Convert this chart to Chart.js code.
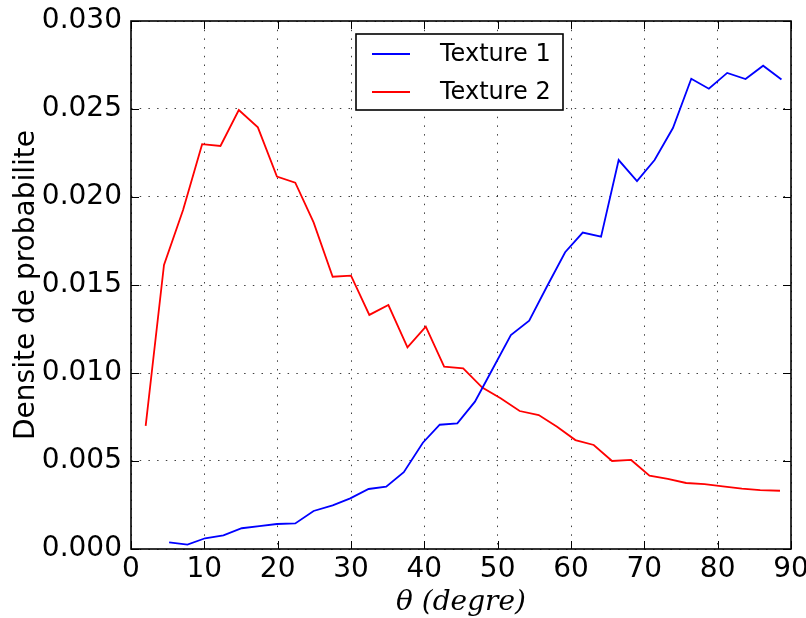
<!DOCTYPE html>
<html>
<head>
<meta charset="utf-8">
<script src="https://cdn.jsdelivr.net/npm/chart.js@4.4.1/dist/chart.umd.min.js"></script>
<style>
html,body{margin:0;padding:0;background:#fff;}
#c{display:block;}
</style>
</head>
<body>
<canvas id="c" width="806" height="618"></canvas>
<script>
// ---- data ----
const seriesNames = ["Texture 1", "Texture 2"];
const anglesT1 = [5.2, 7.7, 10.1, 12.6, 15.1, 17.5, 19.9, 22.4, 24.9, 27.5, 29.9, 32.4, 34.8, 37.2, 39.8, 42.1, 44.5, 46.9, 49.4, 51.8, 54.3, 56.7, 59.2, 61.6, 64.1, 66.5, 69.0, 71.4, 73.9, 76.4, 78.8, 81.3, 83.8, 86.2, 88.7];
const densT1 = [0.00038, 0.00025, 0.00061, 0.00077, 0.00118, 0.00130, 0.00142, 0.00145, 0.00216, 0.00248, 0.00288, 0.00341, 0.00354, 0.00436, 0.00604, 0.00706, 0.00714, 0.00837, 0.01030, 0.01216, 0.01297, 0.01490, 0.01686, 0.01798, 0.01775, 0.02210, 0.02090, 0.02210, 0.02392, 0.02672, 0.02615, 0.02705, 0.02670, 0.02746, 0.02668];
const anglesT2 = [2.0, 4.5, 7.1, 9.7, 12.2, 14.7, 17.3, 19.9, 22.4, 24.9, 27.5, 30.0, 32.5, 35.1, 37.7, 40.2, 42.7, 45.3, 47.9, 50.4, 53.0, 55.6, 58.1, 60.6, 63.1, 65.6, 68.2, 70.7, 73.2, 75.7, 78.2, 80.7, 83.3, 85.8, 88.5];
const densT2 = [0.00699, 0.01614, 0.01926, 0.02300, 0.02290, 0.02494, 0.02396, 0.02116, 0.02081, 0.01856, 0.01547, 0.01553, 0.01330, 0.01386, 0.01146, 0.01263, 0.01036, 0.01027, 0.00917, 0.00856, 0.00784, 0.00761, 0.00695, 0.00619, 0.00591, 0.00500, 0.00506, 0.00417, 0.00398, 0.00375, 0.00369, 0.00356, 0.00343, 0.00334, 0.00331];
const xTicks = [0, 10, 20, 30, 40, 50, 60, 70, 80, 90];
const yTicks = [0.000, 0.005, 0.010, 0.015, 0.020, 0.025, 0.030];
const xTitle = "θ (degre)";
const yTitle = "Densite de probabilite";

const toPts = (xs, ys) => xs.map((x, i) => ({x: x, y: ys[i]}));

const TICK_FONT = {family: "'DejaVu Sans'", size: 28};

const bgPlugin = {
  id: 'bg',
  beforeDraw(chart) {
    const ctx = chart.ctx;
    ctx.save();
    ctx.fillStyle = '#fff';
    ctx.fillRect(0, 0, chart.width, chart.height);
    ctx.restore();
  }
};

const framePlugin = {
  id: 'frame',
  afterDatasetsDraw(chart) {
    const {ctx, chartArea: a, scales} = chart;
    ctx.save();
    ctx.strokeStyle = '#000';
    ctx.lineWidth = 1;
    const tl = 8;
    ctx.beginPath();
    scales.x.ticks.forEach(t => {
      const px = Math.round(scales.x.getPixelForValue(t.value)) + 0.5;
      ctx.moveTo(px, a.bottom); ctx.lineTo(px, a.bottom - tl);
      ctx.moveTo(px, a.top); ctx.lineTo(px, a.top + tl);
    });
    scales.y.ticks.forEach(t => {
      const py = Math.round(scales.y.getPixelForValue(t.value)) + 0.5;
      ctx.moveTo(a.left, py); ctx.lineTo(a.left + tl, py);
      ctx.moveTo(a.right, py); ctx.lineTo(a.right - tl, py);
    });
    ctx.stroke();
    ctx.lineWidth = 1.6;
    ctx.strokeRect(a.left, a.top, a.right - a.left, a.bottom - a.top);
    ctx.restore();
  }
};

const legendPlugin = {
  id: 'boxLegend',
  afterDraw(chart) {
    const ctx = chart.ctx;
    const bx = 356, by = 34, bw = 207, bh = 76;
    ctx.save();
    ctx.fillStyle = '#fff';
    ctx.fillRect(bx, by, bw, bh);
    ctx.strokeStyle = '#000';
    ctx.lineWidth = 1.6;
    ctx.strokeRect(bx, by, bw, bh);
    ctx.font = "24px 'DejaVu Sans'";
    ctx.textBaseline = 'middle';
    ctx.fillStyle = '#000';
    chart.data.datasets.forEach((ds, i) => {
      const yy = by + 20 + i * 38;
      ctx.strokeStyle = ds.borderColor;
      ctx.lineWidth = 2;
      ctx.beginPath();
      ctx.moveTo(bx + 16, yy); ctx.lineTo(bx + 54, yy);
      ctx.stroke();
      ctx.fillText(ds.label, bx + 84, yy + 1);
    });
    ctx.restore();
  }
};

new Chart(document.getElementById('c'), {
  type: 'line',
  data: {
    datasets: [
      {label: seriesNames[0], data: toPts(anglesT1, densT1), borderColor: '#0000ff', borderWidth: 1.8, pointRadius: 0, fill: false, tension: 0},
      {label: seriesNames[1], data: toPts(anglesT2, densT2), borderColor: '#ff0000', borderWidth: 1.8, pointRadius: 0, fill: false, tension: 0}
    ]
  },
  options: {
    responsive: false,
    animation: false,
    events: [],
    layout: {padding: {left: 0, right: 15, top: 21, bottom: 0}},
    plugins: {legend: {display: false}, tooltip: {enabled: false}},
    scales: {
      x: {
        type: 'linear', min: 0, max: 90,
        afterBuildTicks: s => { s.ticks = xTicks.map(v => ({value: v})); },
        afterFit: s => { s.height = 69; s.paddingLeft = 0; s.paddingRight = 0; },
        ticks: {color: '#000', font: TICK_FONT, padding: 4, maxRotation: 0, autoSkip: false, callback: v => String(v)},
        grid: {color: 'rgba(0,0,0,0.75)', lineWidth: 1, drawTicks: false},
        border: {display: false, dash: [1.5, 7.2]},
        title: {display: true, text: xTitle, color: '#000', font: {family: "'DejaVu Serif'", size: 28, style: 'italic'}, padding: {top: 0, bottom: -2}}
      },
      y: {
        type: 'linear', min: 0, max: 0.030,
        afterBuildTicks: s => { s.ticks = yTicks.map(v => ({value: v})); },
        afterFit: s => { s.width = 131; s.paddingTop = 0; s.paddingBottom = 0; },
        ticks: {color: '#000', font: TICK_FONT, padding: 9, autoSkip: false, callback: v => Number(v).toFixed(3)},
        grid: {color: 'rgba(0,0,0,0.75)', lineWidth: 1, drawTicks: false},
        border: {display: false, dash: [1.5, 7.2]},
        title: {display: true, text: yTitle, color: '#000', font: {family: "'DejaVu Sans'", size: 28}, padding: {top: 10, bottom: 0}}
      }
    }
  },
  plugins: [bgPlugin, framePlugin, legendPlugin]
});
</script>
</body>
</html>
